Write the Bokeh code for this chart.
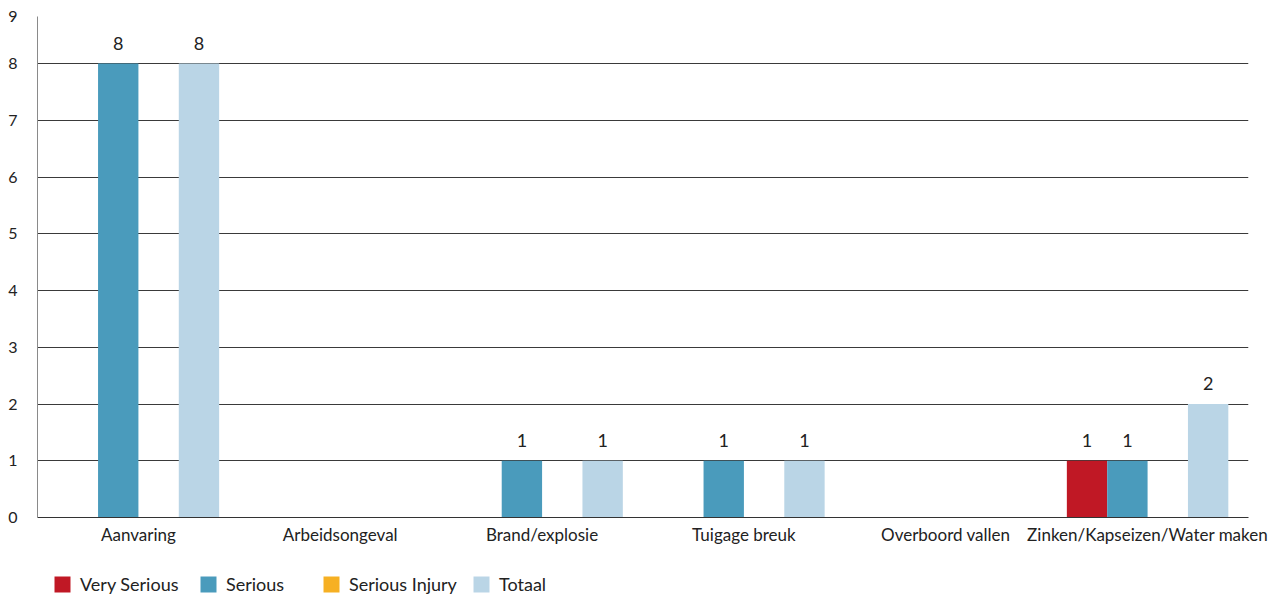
from bokeh.plotting import figure
from bokeh.layouts import column
from bokeh.models import (ColumnDataSource, FactorRange, FixedTicker, Legend,
                          LegendItem, LabelSet)
from bokeh.core.properties import value
from bokeh.transform import dodge
from bokeh.embed import file_html
from bokeh.resources import INLINE

# Incident types and counts per severity
categories = ["Aanvaring", "Arbeidsongeval", "Brand/explosie", "Tuigage breuk",
              "Overboord vallen", "Zinken/Kapseizen/Water maken"]
very_serious = [0, 0, 0, 0, 0, 1]
serious = [8, 0, 1, 1, 0, 1]
serious_injury = [0, 0, 0, 0, 0, 0]
totaal = [8, 0, 1, 1, 0, 2]
y_ticks = [0, 1, 2, 3, 4, 5, 6, 7, 8]

series_names = ["Very Serious", "Serious", "Serious Injury", "Totaal"]
series_values = [very_serious, serious, serious_injury, totaal]
series_colors = ["#C01825", "#4A9BBC", "#F6B023", "#BAD5E6"]
series_offsets = [-0.3, -0.1, 0.1, 0.3]

FONT = "Lato"
TEXT = "#222222"
Y_TOP = 8.83

p = figure(x_range=FactorRange(*categories, range_padding=0),
           y_range=(0, Y_TOP),
           width=1268, height=556, output_backend="svg",
           toolbar_location=None,
           min_border_left=37, min_border_right=20,
           min_border_top=16, min_border_bottom=39)
p.outline_line_color = None

for vals, color, off in zip(series_values, series_colors, series_offsets):
    src = ColumnDataSource(dict(
        cat=categories, val=vals,
        lbl=[str(v) if v else "" for v in vals]))
    p.vbar(x=dodge("cat", off, range=p.x_range), top="val", width=0.2,
           source=src, fill_color=color, line_color=None)
    p.add_layout(LabelSet(x=dodge("cat", off, range=p.x_range), y="val",
                          text="lbl", source=src, y_offset=14,
                          text_align="center", text_baseline="bottom",
                          text_font=value(FONT), text_font_size="18px",
                          text_color=TEXT))

# y axis: integer ticks, top line labelled 9
p.yaxis.ticker = FixedTicker(ticks=y_ticks + [Y_TOP])
p.yaxis.major_label_overrides = {Y_TOP: "9"}
p.yaxis.major_tick_line_color = None
p.yaxis.major_tick_out = 0
p.yaxis.minor_tick_line_color = None
p.yaxis.minor_tick_out = 0
p.yaxis.axis_line_color = "#8a8a8a"
p.yaxis.major_label_standoff = 20
p.yaxis.major_label_text_font = FONT
p.yaxis.major_label_text_font_size = "16px"
p.yaxis.major_label_text_color = TEXT

p.xaxis.major_tick_line_color = None
p.xaxis.major_tick_out = 0
p.xaxis.axis_line_color = "#333333"
p.xaxis.major_label_standoff = 6
p.xaxis.major_label_text_font = FONT
p.xaxis.major_label_text_font_size = "17px"
p.xaxis.major_label_text_color = TEXT

p.xgrid.grid_line_color = None
p.ygrid.grid_line_color = "#3a3a3a"
p.ygrid.grid_line_width = 1

# legend strip underneath the chart (no axes, so its frame spans the full width)
leg = figure(width=1268, height=40, output_backend="svg", toolbar_location=None,
             x_range=(0, 1), y_range=(0, 1),
             x_axis_location=None, y_axis_location=None,
             min_border=0, min_border_left=0, min_border_right=0,
             min_border_top=0, min_border_bottom=0)
leg.grid.visible = False
leg.outline_line_color = None
leg.background_fill_color = None

legend_x = [15, 161, 284, 434]
for name, color, lx in zip(series_names, series_colors, legend_x):
    # a single swatch kept outside the visible range, used only for the key
    r = leg.quad(left=[5], right=[6], top=[5], bottom=[4],
                 fill_color=color, line_color=None)
    leg.add_layout(Legend(items=[LegendItem(label=name, renderers=[r])],
                          location=(lx, 1), orientation="horizontal",
                          background_fill_alpha=0, border_line_color=None,
                          glyph_width=20, glyph_height=20, label_standoff=8,
                          padding=0, margin=0,
                          label_text_font=FONT, label_text_font_size="18px",
                          label_text_color=TEXT))

open("out.html", "w").write(file_html(column(p, leg, spacing=0), INLINE))
